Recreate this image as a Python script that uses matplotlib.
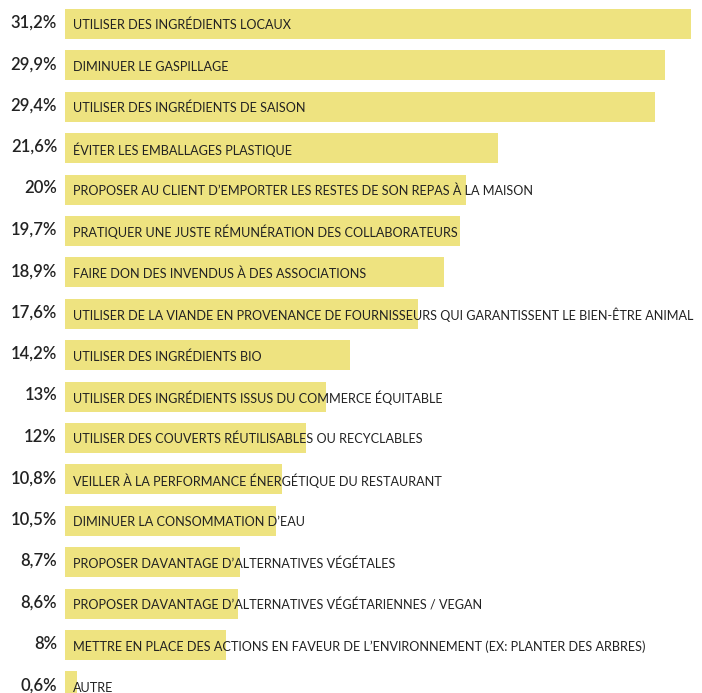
import matplotlib
matplotlib.use("Agg")
import matplotlib.pyplot as plt

# Survey answers (share of respondents, %)
actions = [
    "UTILISER DES INGRÉDIENTS LOCAUX",
    "DIMINUER LE GASPILLAGE",
    "UTILISER DES INGRÉDIENTS DE SAISON",
    "ÉVITER LES EMBALLAGES PLASTIQUE",
    "PROPOSER AU CLIENT D’EMPORTER LES RESTES DE SON REPAS À LA MAISON",
    "PRATIQUER UNE JUSTE RÉMUNÉRATION DES COLLABORATEURS",
    "FAIRE DON DES INVENDUS À DES ASSOCIATIONS",
    "UTILISER DE LA VIANDE EN PROVENANCE DE FOURNISSEURS QUI GARANTISSENT LE BIEN-ÊTRE ANIMAL",
    "UTILISER DES INGRÉDIENTS BIO",
    "UTILISER DES INGRÉDIENTS ISSUS DU COMMERCE ÉQUITABLE",
    "UTILISER DES COUVERTS RÉUTILISABLES OU RECYCLABLES",
    "VEILLER À LA PERFORMANCE ÉNERGÉTIQUE DU RESTAURANT",
    "DIMINUER LA CONSOMMATION D’EAU",
    "PROPOSER DAVANTAGE D’ALTERNATIVES VÉGÉTALES",
    "PROPOSER DAVANTAGE D’ALTERNATIVES VÉGÉTARIENNES / VEGAN",
    "METTRE EN PLACE DES ACTIONS EN FAVEUR DE L’ENVIRONNEMENT (EX: PLANTER DES ARBRES)",
    "AUTRE",
]
shares = [31.2, 29.9, 29.4, 21.6, 20, 19.7, 18.9, 17.6, 14.2, 13, 12,
          10.8, 10.5, 8.7, 8.6, 8, 0.6]

BAR_COLOR = "#EEE380"
TEXT_COLOR = "#222222"

W, H = 702, 693
fig = plt.figure(figsize=(W / 100, H / 100), dpi=100)
ax_left = 65 / W
ax_width = 626 / W
ax = fig.add_axes([ax_left, 0, ax_width, 1])

pitch = 41.4
top_center = 24.0
ax.set_xlim(0, max(shares))
ax.set_ylim((H - top_center) / pitch, -top_center / pitch)

positions = list(range(len(shares)))
ax.barh(positions, shares, height=30 / pitch, color=BAR_COLOR, linewidth=0)

def fmt(v):
    s = f"{v:g}".replace(".", ",")
    return s + "%"

px = max(shares) / 626
for i, (lab, v) in enumerate(zip(actions, shares)):
    ax.text(8 * px, i + 0.03, lab, ha="left", va="center", fontsize=9.1,
            family="Lato", color=TEXT_COLOR)
    ax.text(-8 * px, i - 0.03, fmt(v), ha="right", va="center",
            fontsize=12, family="Lato", fontweight="semibold",
            color=TEXT_COLOR, clip_on=False)

ax.axis("off")
fig.savefig("out.png", dpi=100)
